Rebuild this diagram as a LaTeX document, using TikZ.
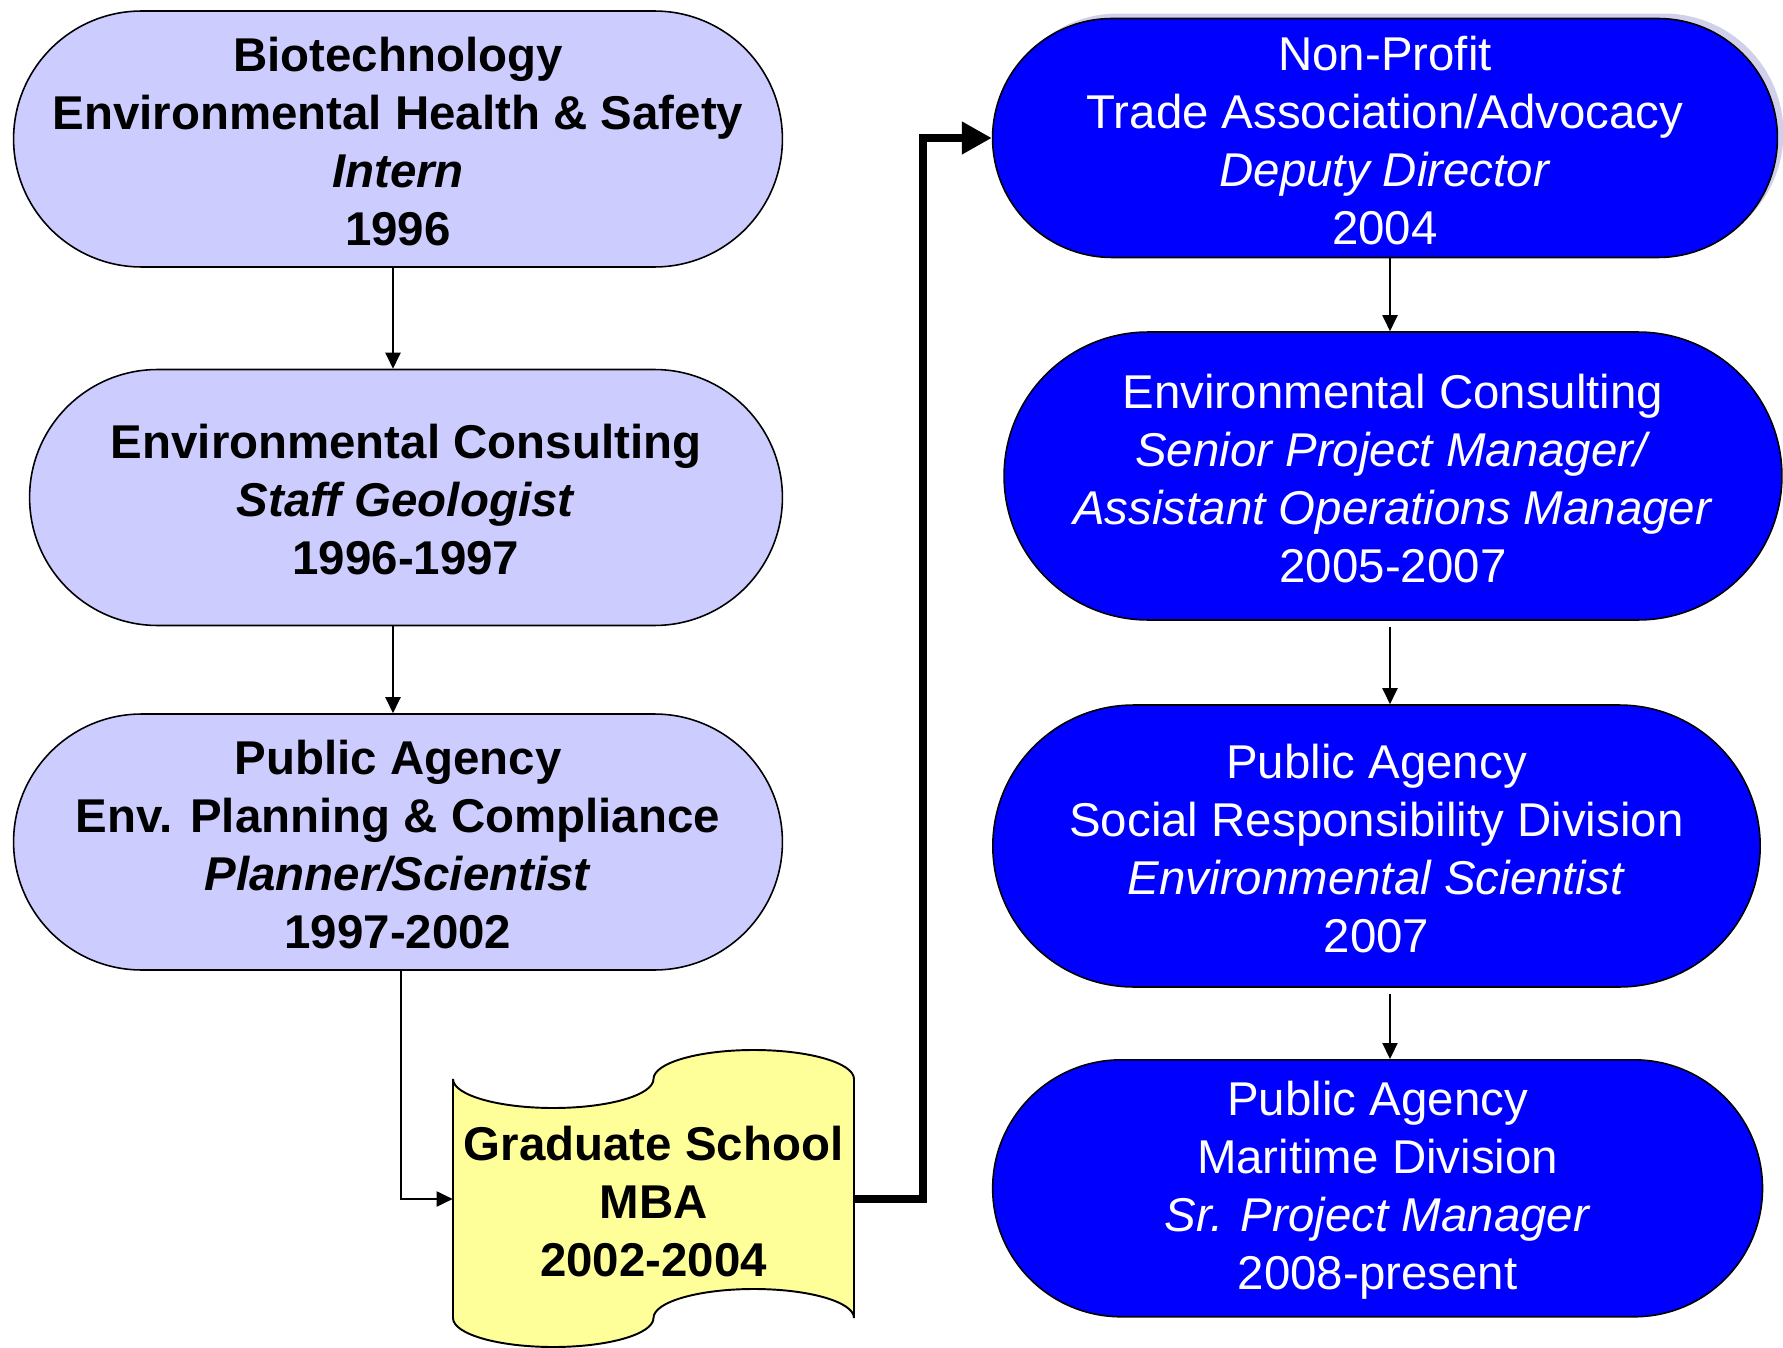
\documentclass[tikz,border=0pt]{standalone}
\usepackage{fontspec}
\setmainfont{Liberation Sans}
\usetikzlibrary{shapes.misc,arrows.meta}
\definecolor{lav}{RGB}{204,204,255}
\definecolor{pblue}{RGB}{0,0,255}
\definecolor{pyel}{RGB}{255,255,153}
\definecolor{shad}{RGB}{208,208,234}
\tikzset{
 term/.style={rounded rectangle, draw=black, line width=0.9pt, inner sep=0pt},
 lavbox/.style={term, fill=lav},
 bluebox/.style={term, fill=pblue},
 lavtext/.style={inner sep=0pt, align=center, yshift=-0.045cm, font=\fontsize{27}{33}\selectfont\bfseries},
 bluetext/.style={inner sep=0pt, align=center, yshift=-0.045cm, text=white, font=\fontsize{27}{33}\selectfont},
 thinarrow/.style={line width=1.1pt, -{Triangle[length=0.32cm,width=0.3cm]}},
 thickarrow/.style={line width=5pt, -{Triangle[length=0.6cm,width=0.62cm]}},
 tape/.style={draw=black, line width=1.1pt, fill=pyel},
}
\begin{document}
\begin{tikzpicture}[x=0.02cm,y=-0.02cm]
\useasboundingbox (0,0) rectangle (1783,1348);

% left column
\node[lavbox, minimum width=15.38cm, minimum height=5.12cm] (b1) at (398,139) {};
\node[lavtext] (b1t) at (b1) {Biotechnology\\Environmental Health \& Safety\\\textit{Intern}\\1996};
\node[lavbox, minimum width=15.06cm, minimum height=5.12cm] (b2) at (406,497.5) {};
\node[lavtext] (b2t) at (b2) {Environmental Consulting\\\textit{Staff Geologist}\\1996-1997};
\node[lavbox, minimum width=15.38cm, minimum height=5.12cm] (b3) at (398,842) {};
\node[lavtext] (b3t) at (b3) {Public Agency\\Env. Planning \& Compliance\\\textit{Planner/Scientist}\\1997-2002};

% graduate school (punched tape)
\draw[tape] (453,1079)
 .. controls (453,1095) and (497.9,1108) .. (553.25,1108)
 .. controls (608.6,1108) and (653.5,1095) .. (653.5,1079)
 .. controls (653.5,1063) and (698.4,1050) .. (753.75,1050)
 .. controls (809.1,1050) and (854,1063) .. (854,1079)
 -- (854,1318)
 .. controls (854,1302) and (809.1,1289) .. (753.75,1289)
 .. controls (698.4,1289) and (653.5,1302) .. (653.5,1318)
 .. controls (653.5,1334) and (608.6,1347) .. (553.25,1347)
 .. controls (497.9,1347) and (453,1334) .. (453,1318)
 -- cycle;
\node[minimum width=8.02cm, minimum height=5.96cm, inner sep=0pt] (grad) at (653.5,1199) {};
\node[lavtext] (gradt) at (grad) {Graduate School\\MBA\\2002-2004};

% right column
\node[term, draw=none, fill=shad, minimum width=15.7cm, minimum height=4.78cm] (r1s) at (1391,133) {};
\node[bluebox, minimum width=15.7cm, minimum height=4.78cm] (r1) at (1385,138) {};
\node[bluetext] (r1t) at (r1) {Non-Profit\\Trade Association/Advocacy\\\textit{Deputy Director}\\2004};
\node[bluebox, minimum width=15.56cm, minimum height=5.76cm] (r2) at (1393,476) {};
\node[bluetext] (r2t) at (r2) {Environmental Consulting\\\textit{Senior Project Manager/}\\\textit{Assistant Operations Manager}\\2005-2007};
\node[bluebox, minimum width=15.35cm, minimum height=5.64cm] (r3) at (1376.5,846) {};
\node[bluetext] (r3t) at (r3) {Public Agency\\Social Responsibility Division\\\textit{Environmental Scientist}\\2007};
\node[bluebox, minimum width=15.4cm, minimum height=5.14cm] (r4) at (1377.6,1188.3) {};
\node[bluetext] (r4t) at (r4) {Public Agency\\Maritime Division\\\textit{Sr. Project Manager}\\2008-present};

% connectors
\coordinate (lx) at (393,0);
\coordinate (gx) at (401,0);
\coordinate (rx) at (1390,0);
\coordinate (tx) at (923,0);
\draw[thinarrow] (b1.south -| lx) -- (b2.north -| lx);
\draw[thinarrow] (b2.south -| lx) -- (b3.north -| lx);
\draw[thinarrow] (b3.south -| gx) -- (grad.west -| gx) -- (grad.west);
\draw[thickarrow] (grad.east) -- (grad.east -| tx) -- (r1.west -| tx) -- (r1.west);
\draw[thinarrow] (r1.south -| rx) -- (r2.north -| rx);
\draw[thinarrow] ([yshift=-0.12cm]r2.south -| rx) -- (r3.north -| rx);
\draw[thinarrow] ([yshift=-0.12cm]r3.south -| rx) -- (r4.north -| rx);
\end{tikzpicture}
\end{document}
